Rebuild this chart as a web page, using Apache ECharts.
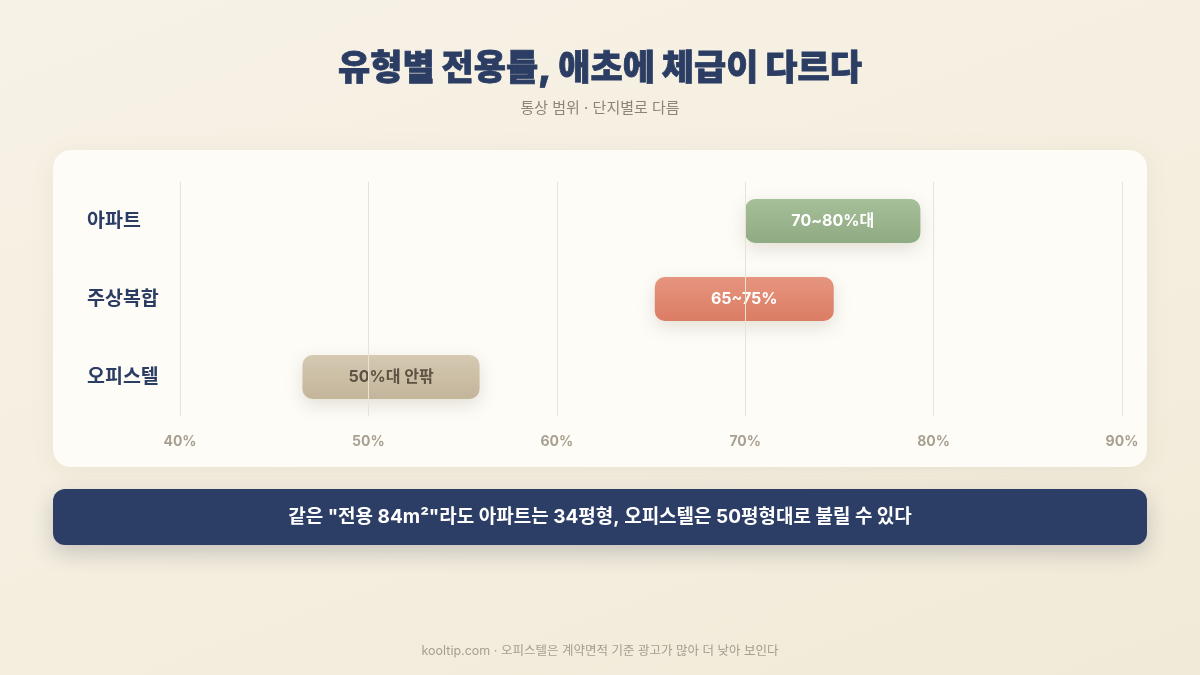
<!DOCTYPE html>
<html>
<head>
<meta charset="utf-8">
<script src="https://cdn.jsdelivr.net/npm/echarts@6/dist/echarts.min.js"></script>
<style>
  html, body { margin: 0; padding: 0; }
  body {
    width: 1200px; height: 675px; overflow: hidden;
    background: linear-gradient(160deg, #f7f2e6 0%, #f4eedf 60%, #f1ead8 100%);
  }
  #main { width: 1200px; height: 675px; }
</style>
</head>
<body>
<div id="main"></div>
<script>
var FONT = 'Inter, "Noto Sans CJK KR", "Noto Sans", sans-serif';

// 유형별 전용률 범위 (%)
var categories = ['아파트', '주상복합', '오피스텔'];
var rangeStart = [70, 65.2, 46.5];
var rangeEnd = [79.3, 74.7, 55.9];
var rangeLabels = ['70~80%대', '65~75%', '50%대 안팎'];
var xTicks = [40, 50, 60, 70, 80, 90];

// bar look, by row
var barTop = ['#a5bf98', '#e6957f', '#d5c9b2'];
var barBottom = ['#8fab84', '#dc7c64', '#c3b59a'];
var labelColor = ['#ffffff', '#ffffff', '#5e5343'];

var chartDom = document.getElementById('main');
var myChart = echarts.init(chartDom, null, { renderer: 'canvas' });

var data = categories.map(function (c, i) {
    return [i, rangeStart[i], rangeEnd[i], rangeLabels[i]];
});

function renderItem(params, api) {
    var idx = api.value(0);
    var s = api.coord([api.value(1), idx]);
    var e = api.coord([api.value(2), idx]);
    var h = 44;
    return {
        type: 'group',
        children: [{
            type: 'rect',
            shape: { x: s[0], y: s[1] - h / 2, width: e[0] - s[0], height: h, r: 10 },
            style: {
                fill: new echarts.graphic.LinearGradient(0, 0, 0, 1, [
                    { offset: 0, color: barTop[idx] },
                    { offset: 1, color: barBottom[idx] }
                ]),
                shadowBlur: 18,
                shadowOffsetY: 6,
                shadowColor: 'rgba(90, 70, 40, 0.16)'
            }
        }, {
            type: 'text',
            style: {
                text: rangeLabels[idx],
                x: (s[0] + e[0]) / 2,
                y: s[1],
                align: 'center',
                verticalAlign: 'middle',
                fill: labelColor[idx],
                font: 'bold 16px ' + FONT
            }
        }]
    };
}

var option = {
    animation: false,
    graphic: [{
        type: 'text', left: 'center', top: 52, z: 10,
        style: {
            text: '유형별 전용률, 애초에 체급이 다르다', fill: '#2b3d63',
            stroke: '#2b3d63', lineWidth: 0.8, font: '900 35px ' + FONT
        }
    }, {
        type: 'text', left: 'center', top: 101, z: 10,
        style: { text: '통상 범위 · 단지별로 다름', fill: '#8c8575', font: '15px ' + FONT }
    }, {
        type: 'rect', z: -10,
        shape: { x: 53, y: 150, width: 1094, height: 317, r: 18 },
        style: { fill: '#fdfcf7', shadowBlur: 24, shadowOffsetY: 4, shadowColor: 'rgba(120, 100, 60, 0.08)' }
    }, {
        type: 'rect', z: -10,
        shape: { x: 53, y: 489, width: 1094, height: 56, r: 12 },
        style: { fill: '#2d3e66', shadowBlur: 22, shadowOffsetY: 8, shadowColor: 'rgba(40, 45, 70, 0.22)' }
    }, {
        type: 'text', left: 'center', top: 508, z: 10,
        style: { text: '같은 "전용 84m²"라도 아파트는 34평형, 오피스텔은 50평형대로 불릴 수 있다', fill: '#ffffff', font: 'bold 19px ' + FONT }
    }, {
        type: 'text', left: 'center', top: 645, z: 10,
        style: { text: 'kooltip.com · 오피스텔은 계약면적 기준 광고가 많아 더 낮아 보인다', fill: '#a59d8d', font: '12.5px ' + FONT }
    }],
    grid: { left: 180, right: 78, top: 182, bottom: 259 },
    xAxis: {
        type: 'value',
        min: xTicks[0],
        max: xTicks[xTicks.length - 1],
        interval: 10,
        z: 5,
        axisLine: { show: false },
        axisTick: { show: false },
        splitLine: { lineStyle: { color: '#e9e3d3', width: 1 } },
        axisLabel: {
            formatter: '{value}%',
            margin: 19,
            color: '#a8a090',
            fontFamily: FONT,
            fontWeight: 'bold',
            fontSize: 14
        }
    },
    yAxis: {
        type: 'category',
        data: categories,
        inverse: true,
        axisLine: { show: false },
        axisTick: { show: false },
        splitLine: { show: false },
        axisLabel: {
            align: 'left',
            margin: 93,
            color: '#2b3d63',
            fontFamily: FONT,
            fontWeight: 'bold',
            fontSize: 19.5
        }
    },
    series: [{
        type: 'custom',
        renderItem: renderItem,
        encode: { x: [1, 2], y: 0 },
        data: data,
        z: 2
    }]
};

option && myChart.setOption(option);
</script>
</body>
</html>
